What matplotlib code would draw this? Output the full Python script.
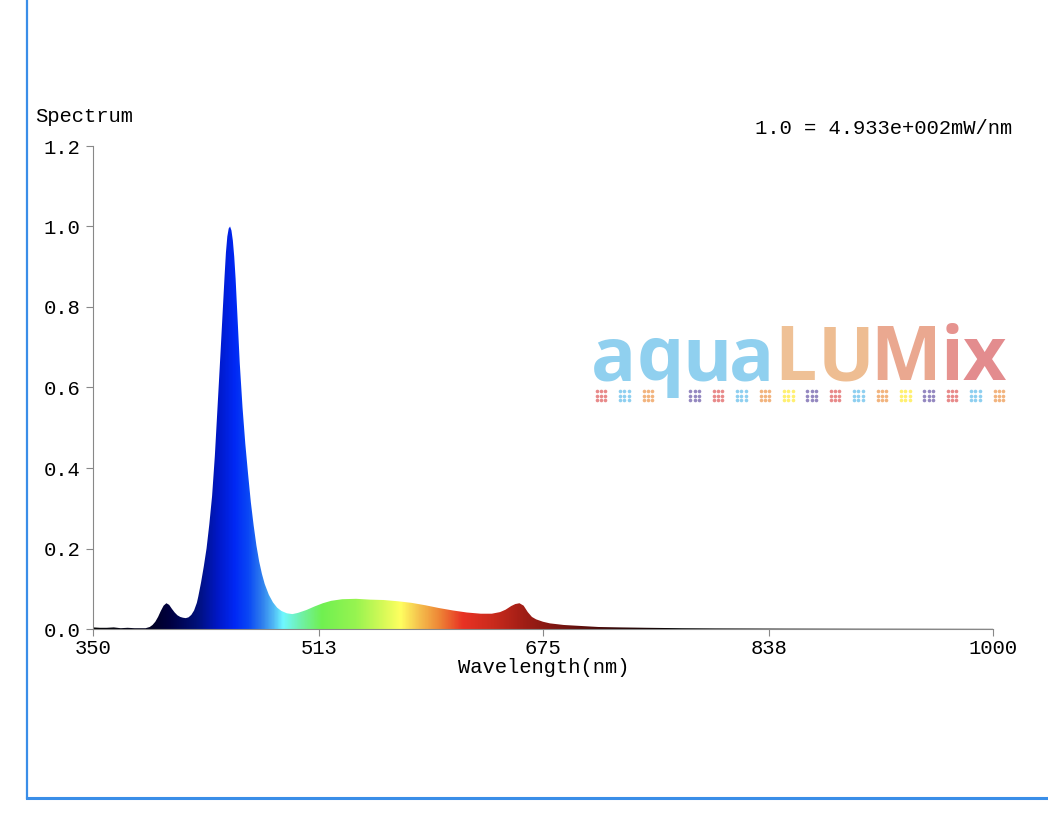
import numpy as np
import matplotlib.pyplot as plt
from matplotlib.colors import LinearSegmentedColormap
from matplotlib.patches import Polygon

# spectrum (nm, relative power)
wavelength = [350, 355, 360, 365, 370, 375, 380, 385, 388, 391, 393, 395, 397, 399, 401, 403,
              405, 407, 409, 411, 413, 415, 417, 419, 421, 423, 425, 426, 428, 430, 432, 434,
              436, 438, 440, 442, 444, 445, 446, 447, 448, 449, 450, 451, 452, 453, 454, 456,
              458, 460, 462, 464, 466, 468, 470, 472, 474, 477, 480, 483, 486, 490, 494, 498,
              504, 510, 516, 522, 530, 540, 550, 560, 570, 580, 590, 600, 610, 620, 630, 638,
              644, 648, 652, 655, 658, 661, 664, 667, 670, 675, 680, 690, 700, 715, 730, 750,
              775, 800, 850, 900, 950, 1000]
power = [0.004, 0.003, 0.003, 0.004, 0.002, 0.003, 0.002, 0.002, 0.002, 0.005, 0.010, 0.018,
         0.030, 0.045, 0.058, 0.064, 0.060, 0.050, 0.041, 0.034, 0.030, 0.028, 0.027, 0.029,
         0.035, 0.046, 0.065, 0.080, 0.115, 0.155, 0.200, 0.260, 0.330, 0.430, 0.555, 0.680,
         0.810, 0.875, 0.935, 0.975, 0.995, 1.000, 0.990, 0.965, 0.925, 0.870, 0.800, 0.660,
         0.550, 0.460, 0.385, 0.315, 0.258, 0.208, 0.168, 0.137, 0.112, 0.085, 0.066, 0.053,
         0.045, 0.039, 0.037, 0.040, 0.047, 0.056, 0.064, 0.070, 0.074, 0.075, 0.073, 0.072,
         0.069, 0.065, 0.059, 0.052, 0.046, 0.041, 0.038, 0.038, 0.042, 0.048, 0.057, 0.062,
         0.064, 0.058, 0.042, 0.030, 0.024, 0.018, 0.014, 0.010, 0.008, 0.005, 0.004, 0.003,
         0.002, 0.0015, 0.001, 0.0007, 0.0005, 0.0003]

x_ticks = [350, 513, 675, 838, 1000]
y_ticks = [0.0, 0.2, 0.4, 0.6, 0.8, 1.0, 1.2]

# colour of the fill along the wavelength axis
stop_nm = [350, 390, 405, 425, 440, 452, 462, 472, 480, 487, 500, 515, 540, 560, 572, 585,
           600, 617, 640, 660, 690, 730, 770, 1000]
stop_col = ['#000000', '#000020', '#000040', '#00107a', '#0018c8', '#0028f5', '#0a48f5',
            '#3080ee', '#50b8f5', '#6ff8ff', '#70f0a8', '#70f050', '#98f450', '#d8fa58',
            '#ffff60', '#f5c24e', '#ee8636', '#e83224', '#c82a1c', '#a21e16', '#741410',
            '#300404', '#000000', '#000000']

logo_letters = ['a', 'q', 'u', 'a', 'L', 'U', 'M', 'i', 'x']
logo_x = [614, 660, 707, 752, 795, 846, 906, 952, 984]
logo_col = ['#90d0ef', '#90d0ef', '#90d0ef', '#90d0ef', '#efc196', '#eebd92', '#eaa890',
            '#e6938f', '#e38c8e']
dot_col = ['#e88a8a', '#8ecff0', '#f2b47e', None, '#9488c0', '#e88a8a', '#8ecff0', '#f2b47e',
           '#fff070', '#9488c0', '#e88a8a', '#8ecff0', '#f2b47e', '#fff070', '#9488c0',
           '#e88a8a', '#8ecff0', '#f2b47e']

mono = 'Liberation Mono'
fs = 14.8

fig = plt.figure(figsize=(10.48, 8.22), dpi=100)

# background layer in pixel coordinates: frame lines, logo, texts
bg = fig.add_axes([0, 0, 1, 1])
bg.set_xlim(0, 1048)
bg.set_ylim(822, 0)
bg.axis('off')
bg.plot([27, 27], [0, 798], color='#3a8ee8', lw=1.6)
bg.plot([27, 1048], [798, 798], color='#3a8ee8', lw=2.2)

for ch, x, c in zip(logo_letters, logo_x, logo_col):
    bg.text(x, 380, ch, color=c, fontsize=54, family='Open Sans', weight='bold',
            ha='center', va='baseline')
for k, c in enumerate(dot_col):
    if c is None:
        continue
    cx = 601 + k * 23.4
    for dx in (-4.3, 0, 4.3):
        for dy in (-4.3, 0, 4.3):
            bg.plot(cx + dx, 395.5 + dy, 'o', ms=2.6, mec='none', mfc=c)

bg.text(35, 117, 'Spectrum', family=mono, fontsize=fs, ha='left', va='center')
bg.text(1012, 129, '1.0 = 4.933e+002mW/nm', family=mono, fontsize=fs, ha='right', va='center')
bg.text(544, 667, 'Wavelength(nm)', family=mono, fontsize=fs, ha='center', va='center')

ax = fig.add_axes([93 / 1048, 1 - 629 / 822, 900 / 1048, (629 - 146) / 822])
ax.set_facecolor('none')
ax.set_xlim(350, 1000)
ax.set_ylim(0, 1.2)

cmap = LinearSegmentedColormap.from_list(
    'spec', [((n - 350) / 650, c) for n, c in zip(stop_nm, stop_col)], N=1024)
grad = np.linspace(0, 1, 1300).reshape(1, -1)
im = ax.imshow(grad, extent=[350, 1000, 0, 1.2], aspect='auto', cmap=cmap, origin='lower',
               interpolation='bilinear')
verts = np.column_stack([np.r_[wavelength[0], wavelength, wavelength[-1]],
                         np.r_[0, power, 0]])
shape = Polygon(verts, closed=True, facecolor='none', edgecolor='none')
ax.add_patch(shape)
im.set_clip_path(shape)

for s in ['top', 'right']:
    ax.spines[s].set_visible(False)
for s in ['left', 'bottom']:
    ax.spines[s].set_color('#888888')
ax.set_xticks(x_ticks)
ax.set_xticklabels([str(v) for v in x_ticks])
ax.set_yticks(y_ticks)
ax.set_yticklabels(['%.1f' % v for v in y_ticks])
ax.tick_params(direction='out', length=5, color='#888888', labelsize=fs)
ax.tick_params(axis='x', pad=2)
ax.tick_params(axis='y', pad=4)
for lab in ax.get_xticklabels() + ax.get_yticklabels():
    lab.set_family(mono)

fig.savefig('out.png', dpi=100)
